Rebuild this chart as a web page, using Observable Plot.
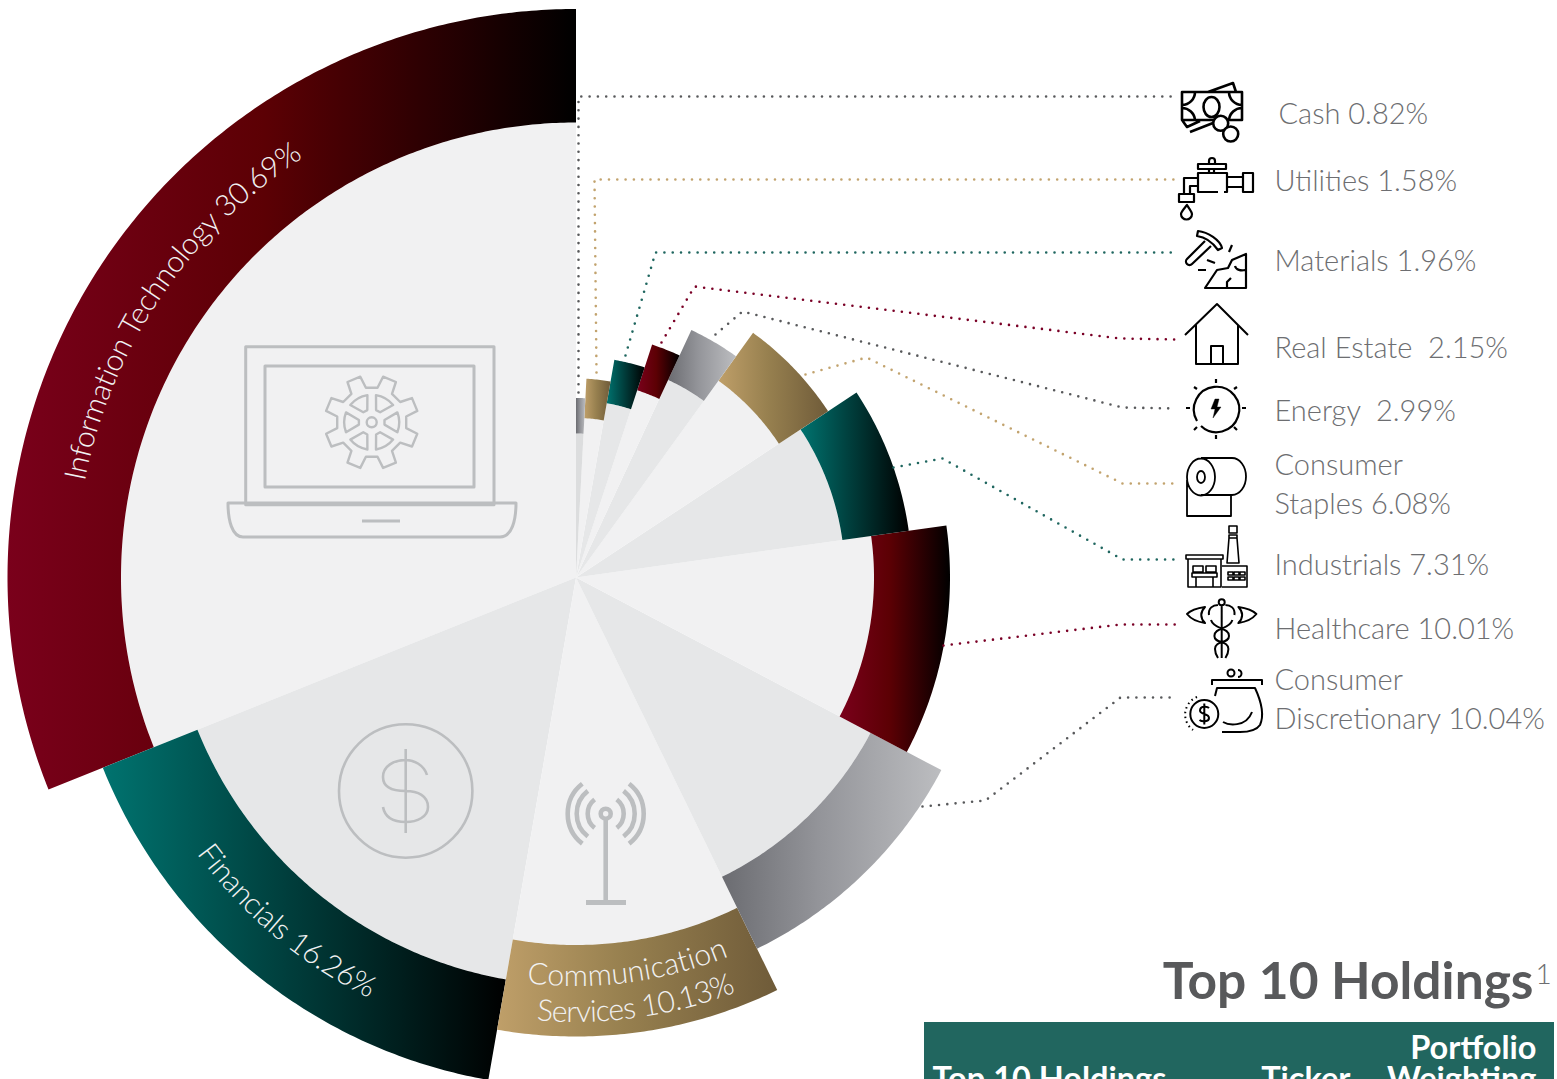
<!DOCTYPE html>
<html>
<head>
<meta charset="utf-8">
<script src="https://cdn.jsdelivr.net/npm/d3@7"></script>
<script src="https://cdn.jsdelivr.net/npm/@observablehq/plot@0.6"></script>
<style>html,body{margin:0;padding:0;background:#fff;overflow:hidden}svg{display:block}</style>
</head>
<body>
<div id="chart"></div>
<script>
// ---------- chart values ----------
const sectors = ["Information Technology","Financials","Communication Services","Consumer Discretionary","Healthcare","Industrials","Consumer Staples","Energy","Real Estate","Materials","Utilities","Cash"];
const weights = [30.69,16.26,10.13,10.04,10.01,7.31,6.08,2.99,2.15,1.96,1.58,0.82];
// where each sector's slice ends, in degrees counter-clockwise from 12 o'clock
const sliceEnds = [111.9,170.1,206,242.2,278,303.4,324.1,335,341.9,350,357,360];
const outerReach = [568.5,510,459,413,374,336,302,273,245,221,199,179.5];
const innerReach = [455,408,367.5,333,298,269,243,218,197,177,159.5,144];
const bandColours = ["red","teal","tan","grey","red","teal","tan","grey","red","teal","tan","grey"];
const sliceFills = ["#f1f1f2","#e6e7e8","#f1f1f2","#e6e7e8","#f1f1f2","#e6e7e8","#f1f1f2","#e6e7e8","#f1f1f2","#e6e7e8","#f1f1f2","#dcddde"];
const gradients = {red:["#7a001b","#5c0004","#000000"],teal:["#00736f","#003f3d","#000000"],tan:["#bf9f69","#97804f","#6f5b39"],grey:["#6b6c71","#94959a","#bcbdc0"]};

const legendLines = [
  ["Cash 0.82%",1278,123],["Utilities 1.58%",1274,190],["Materials 1.96%",1274,270],
  ["Real Estate  2.15%",1274,357],["Energy  2.99%",1274,420],["Consumer",1274,474],
  ["Staples 6.08%",1274,513],["Industrials 7.31%",1274,574],["Healthcare 10.01%",1274,638],
  ["Consumer",1274,689],["Discretionary 10.04%",1274,728]
];
const leaders = [
  {c:"#58595b",p:[[578,392],[578,96],[1178,96]]},
  {c:"#c2a36e",p:[[596,372],[594,179],[1175,179]]},
  {c:"#1f665f",p:[[625,355],[655,252],[1175,252]]},
  {c:"#7a0026",p:[[661,342],[694,286],[1120,338],[1175,339]]},
  {c:"#58595b",p:[[715,334],[742,311],[1122,407],[1175,408]]},
  {c:"#c2a36e",p:[[805,374],[866,357],[1122,483],[1175,483]]},
  {c:"#1f665f",p:[[893,467],[942,458],[1122,559],[1175,559]]},
  {c:"#7a0026",p:[[943,645],[1120,624],[1175,624]]},
  {c:"#58595b",p:[[922,806],[985,800],[1120,697],[1175,697]]}
];
const curvedLabels = [
  {t:"Information Technology 30.69%",r:500,from:86,to:26,sweep:1,size:30,track:-0.35},
  {t:"Financials 16.26%",r:469,from:110,to:170,sweep:0,size:30,track:-0.4},
  {t:"Communication",r:409,from:157.6,to:217.6,sweep:0,size:30,track:0.2},
  {t:"Services 10.13%",r:445,from:158,to:218,sweep:0,size:30,track:-0.8}
];

// ---------- geometry helpers ----------
const cx = 575.5, cy = 577;
const starts = [0, ...sliceEnds];
const polar = (r, deg) => [cx - r * Math.sin(deg * Math.PI / 180), cy - r * Math.cos(deg * Math.PI / 180)];
function ring(a0, a1, r0, r1) {
  const n = Math.max(2, Math.ceil((a1 - a0) * 2));
  const rows = [];
  for (let i = 0; i <= n; i++) { const [x, y] = polar(r1, a0 + (a1 - a0) * i / n); rows.push({x, y}); }
  if (r0 === 0) { rows.push({x: cx, y: cy}); return rows; }
  for (let i = n; i >= 0; i--) { const [x, y] = polar(r0, a0 + (a1 - a0) * i / n); rows.push({x, y}); }
  return rows;
}
const wedge = (rows, fill) => Plot.line(rows, {x: "x", y: "y", fill, stroke: "none"});

// ---------- icon outlines ----------
const circ = (x, y, r) => `M${x - r} ${y}a${r} ${r} 0 1 0 ${2 * r} 0a${r} ${r} 0 1 0 ${-2 * r} 0Z`;
const oval = (x, y, a, b) => `M${x - a} ${y}a${a} ${b} 0 1 0 ${2 * a} 0a${a} ${b} 0 1 0 ${-2 * a} 0Z`;
const box = (x, y, w, h) => `M${x} ${y}h${w}v${h}h${-w}Z`;
function gearPath(x, y) {
  const pt = (r, a) => `${(x + r * Math.sin(a * Math.PI / 180)).toFixed(1)} ${(y - r * Math.cos(a * Math.PI / 180)).toFixed(1)}`;
  let d = "";
  for (let i = 0; i < 8; i++) {
    const a = 22.5 + i * 45;
    d += (i ? "L" : "M") + pt(35, a - 13) + "L" + pt(47, a - 8.5) + "L" + pt(47, a + 8.5) + "L" + pt(35, a + 13);
  }
  d += "Z";
  for (let i = 0; i < 6; i++) {
    const a = 30 + i * 60;
    d += "M" + pt(27.5, a - 21) + "A27.5 27.5 0 0 1 " + pt(27.5, a + 21) + "L" + pt(13, a + 10) + "L" + pt(13, a - 10) + "Z";
  }
  return d + circ(x, y, 5);
}
function antennaArcs(x, y) {
  let d = "";
  for (const r of [18, 29, 38]) {
    const s = Math.sin(52 * Math.PI / 180) * r, c = Math.cos(52 * Math.PI / 180) * r;
    d += `M${x + c} ${y - s}A${r} ${r} 0 0 1 ${x + c} ${y + s}M${x - c} ${y - s}A${r} ${r} 0 0 0 ${x - c} ${y + s}`;
  }
  return d;
}
const darkIcons = [
  // cash
  {w:2.6,d:box(1182,92,60,28)+"M1182 105a13 13 0 0 0 13-13M1229 92a13 13 0 0 0 13 13M1242 108a13 13 0 0 0-13 12M1182 108a13 13 0 0 1 13 12"+oval(1211.5,107,8,10)+"M1208 92L1233 83L1236 92M1190 132L1213 123M1182 120L1187 127L1200 121"},
  {w:2.6,fill:"#fff",d:circ(1220.7,123.3,7.5)},
  {w:2.6,fill:"#fff",d:circ(1230.7,134,7.5)},
  // utilities
  {w:2.2,d:"M1224 192H1227V173H1198V192H1218"+box(1198,164,28,5)+box(1209,169,5,4)+"M1209 164v-3a3 3 0 0 1 6 0v3"+"M1227 177H1243M1227 187H1243"+box(1243,173,10,19)+"M1198 178H1184V194M1198 186H1190V194"+box(1179,194,15,8)+"M1187 205C1183 210 1181 212 1181 214a5.5 5.5 0 0 0 11 0C1192 212 1190 210 1187 205Z"},
  // materials
  {w:2.2,d:"M1198 231C1208 232 1220 240 1222 248L1218 250C1213 243 1205 237 1197 236ZM1205 241L1187 259a3.5 3.5 0 0 0 5 5L1211 246M1232 245L1229 252M1207 260L1215 263M1198 270H1206M1205 288L1217 270L1228 268L1232 260L1246 254V288ZM1235 266C1236 270 1241 271 1245 270M1227 288V282L1231 278"},
  // real estate
  {w:2,d:"M1185 335L1217 304L1248 335M1196 325V364H1238V325M1211 364V346H1223V364"},
  // energy
  {w:2.2,d:"M1197 421A22.7 22.7 0 1 1 1201 426M1216 379V383M1216 435V439M1186 408H1190M1242 408H1246M1194 387L1197 389M1237 387L1234 389M1194 430L1197 427M1237 430L1234 427"},
  {w:0.4,fill:"#000",d:"M1215 399L1211 409L1215 409L1213 418L1221 407L1217 407L1219 399Z"},
  // consumer staples
  {w:1.8,d:oval(1201,477,14,18.5)+oval(1201,477,4,6)+"M1201 458H1232A14 18.5 0 0 1 1232 495H1201M1187 480V516H1231V495"},
  // industrials
  {w:1.6,d:box(1186,555,37,4)+"M1188 559V587H1221V559"+box(1193,566,10,6)+box(1206,566,10,6)+box(1192,573,25,4)+"M1196 577V587M1213 577V587"+"M1222 566H1247V587H1222"+box(1229,526,8,7)+box(1229,535,8,3)+"M1229 538L1227 563H1239L1237 538"+box(1228,572,5,3)+box(1234,572,5,3)+box(1240,572,5,3)+box(1228,577,5,3)+box(1234,577,5,3)+box(1240,577,5,3)},
  // healthcare
  {w:2,d:circ(1221.7,602.3,3)+"M1221.7 605V658M1205 607C1198 608 1191 610 1187 614C1191 619 1198 622 1205 623C1200 618 1200 612 1205 607ZM1238.400 607C1245.400 608 1252.400 610 1256.400 614C1252.400 619 1245.400 622 1238.400 623C1243.400 618 1243.400 612 1238.400 607ZM1209 615C1208 608 1213 605 1218 605M1234.400 615C1235.400 608 1230.400 605 1225.400 605M1211 620C1214 630 1229 627 1229 636C1229 644 1215 640 1215 649C1215 653 1216 655 1218 658M1232.400 620C1229.400 630 1214.400 627 1214.400 636C1214.400 644 1228.400 640 1228.400 649C1228.400 653 1227.400 655 1225.400 658"},
  // consumer discretionary
  {w:2,d:"M1212 685V680H1262V685M1215 696L1217 688H1255C1262 703 1264 716 1260 725C1256 731 1248 732 1240 732H1222M1223 722C1228 725 1246 728 1252 712"+circ(1231,673,3.5)+"M1238 670a3.5 3.5 0 1 1 0 7"+circ(1204.3,714,14)+"M1209 708C1207 706 1200 706 1200 710.500C1200 715 1209 713 1209 718C1209 722 1202 722 1199.500 720M1204.300 703.500V724.500"},
  {w:2,dash:"1.5,3.4",d:"M1197 697A19 19 0 0 0 1193 730"}
];
const greyIcons = [
  {w:3,d:box(245.7,346.7,248.3,158)+box(265,366,209,121)+"M228 503H516C516 520 512 537 500 537H243C232 537 228 520 228 503ZM362 521H400"},
  {w:2.4,d:gearPath(371.7,422.3)},
  {w:2.6,d:circ(405.7,791,66.7)+"M405.700 749V833M427 775C424 765 414 760 405.700 760C394 760 383 766 383 777C383 788 394 791 405.700 791C418 791 428 796 428 807C428 817 417 822 405.700 822C394 822 385 818 383 807"},
  {w:4.6,d:circ(605.7,813.7,5)+"M605.700 820V900"+antennaArcs(605.7,813.7)},
  {w:5,d:"M586 902.500H626"}
];

// ---------- custom marks (layers drawn through the same x/y scales) ----------
const NS = "http://www.w3.org/2000/svg";
const defsMark = () => {
  const defs = document.createElementNS(NS, "defs");
  for (const [k, [a, m, b]] of Object.entries(gradients)) {
    const g = d3.select(defs).append("linearGradient").attr("id", "grad-" + k);
    g.append("stop").attr("offset", 0).attr("stop-color", a);
    g.append("stop").attr("offset", 0.45).attr("stop-color", m);
    g.append("stop").attr("offset", 1).attr("stop-color", b);
  }
  return defs;
};
const iconMark = (icons, stroke) => (index, {x, y}) => {
  const g = d3.select(document.createElementNS(NS, "g"))
    .attr("transform", `translate(${x(0)},${y(0)})`);
  for (const ic of icons) {
    g.append("path").attr("d", ic.d).attr("fill", ic.fill || "none").attr("stroke", stroke)
      .attr("stroke-width", ic.w).attr("stroke-linejoin", "round")
      .attr("stroke-dasharray", ic.dash || null);
  }
  return g.node();
};
const curvedMark = (index, {x, y}) => {
  const g = d3.select(document.createElementNS(NS, "g"));
  curvedLabels.forEach((l, i) => {
    const [x0, y0] = polar(l.r, l.from), [x1, y1] = polar(l.r, l.to);
    const id = "arc-" + i;
    g.append("path").attr("id", id).attr("fill", "none")
      .attr("d", `M${x(x0)} ${y(y0)}A${l.r} ${l.r} 0 0 ${l.sweep} ${x(x1)} ${y(y1)}`);
    g.append("text").attr("fill", "#f1f1f2").attr("font-size", l.size).attr("font-weight", 300)
      .attr("font-family", "Lato").attr("text-anchor", "middle").attr("letter-spacing", l.track)
      .append("textPath").attr("href", "#" + id).attr("startOffset", "50%").text(l.t);
  });
  return g.node();
};

// ---------- marks ----------
const marks = [defsMark];
sectors.forEach((s, i) => marks.push(wedge(ring(starts[i], starts[i + 1], 0, innerReach[i]), sliceFills[i])));
sectors.forEach((s, i) => marks.push(wedge(ring(starts[i], starts[i + 1], innerReach[i], outerReach[i]), `url(#grad-${bandColours[i]})`)));
for (const l of leaders) {
  marks.push(Plot.line(l.p, {x: d => d[0], y: d => d[1], stroke: l.c, strokeWidth: 2.6, strokeDasharray: "0,8.3", strokeLinecap: "round", curve: "linear"}));
}
marks.push(iconMark(greyIcons, "#bcbec0"), iconMark(darkIcons, "#000"), curvedMark);
marks.push(Plot.text(legendLines, {x: d => d[1], y: d => d[2], text: d => d[0], textAnchor: "start", lineAnchor: "bottom", fontSize: 29, fontWeight: 300, fontFamily: "Lato", fill: "#6d6e71", style: {letterSpacing: "-0.35px"}}));

// Top 10 Holdings heading and clipped table header
const tableBand = [{x1: 924, x2: 1554, y1: 1022, y2: 1079}];
const heading = [["Top 10 Holdings",1533,998]];
const tableHead = [["Portfolio",1536,1058],["Weighting",1536,1089],["Ticker",1350,1089],["Top 10 Holdings",1166,1089]];
marks.push(Plot.rect(tableBand, {x1: "x1", x2: "x2", y1: "y1", y2: "y2", fill: "#21665f"}));
marks.push(Plot.text(heading, {x: d => d[1], y: d => d[2], text: d => d[0], textAnchor: "end", lineAnchor: "bottom", fontSize: 51.5, fontWeight: 700, fontFamily: "Lato", fill: "#58595b"}));
marks.push(Plot.text([["1",1535,983]], {x: d => d[1], y: d => d[2], text: d => d[0], textAnchor: "start", lineAnchor: "bottom", fontSize: 28, fontWeight: 300, fontFamily: "Lato", fill: "#6d6e71"}));
marks.push(Plot.text(tableHead, {x: d => d[1], y: d => d[2], text: d => d[0], textAnchor: "end", lineAnchor: "bottom", fontSize: 32.5, fontWeight: 700, fontFamily: "Lato", fill: "#fff"}));

const chart = Plot.plot({
  width: 1557, height: 1079, margin: 0,
  x: {domain: [0, 1557], range: [0, 1557], axis: null},
  y: {domain: [0, 1079], range: [0, 1079], axis: null},
  style: {background: "#fff", overflow: "hidden"},
  marks
});
document.getElementById("chart").appendChild(chart);
</script>
</body>
</html>
